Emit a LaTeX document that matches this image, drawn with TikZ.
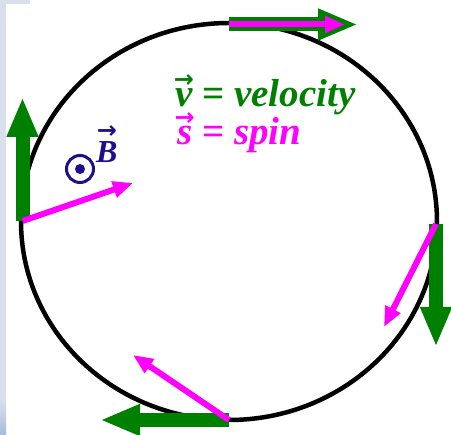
\documentclass[tikz,border=0pt]{standalone}
\usepackage{fontspec}
\setmainfont{Liberation Serif}
\newfontfamily\arrowfont{DejaVu Sans}
\usetikzlibrary{arrows.meta}
\definecolor{velgreen}{HTML}{008000}
\definecolor{spinpink}{HTML}{FF00FF}
\definecolor{fieldblue}{HTML}{1E0E8C}
\definecolor{stripblue}{HTML}{D9DFEC}
\definecolor{stripdark}{HTML}{A8BBDA}
\tikzset{
  % The circular orbit
  orbit/.style={draw=black, line width=4.5pt},
  % Velocity vectors: thick green arrows
  velarrow/.style={draw=velgreen, line width=14pt,
    -{Triangle[length=40pt, width=29pt]}},
  % Spin vectors: thinner magenta arrows
  spinarrow/.style={draw=spinpink, line width=6pt,
    -{Triangle[length=20pt, width=16pt]}},
  % Legend texts
  legend/.style={font=\fontsize{39}{44}\selectfont\bfseries\itshape,
    inner sep=0pt, anchor=base west},
}
% letter with an arrow above it
\newcommand{\vecsym}[2]{\ooalign{#2\cr\hidewidth
  \raisebox{#1}{\arrowfont\fontsize{24}{24}\selectfont\bfseries\upshape\char"2192}%
  \hidewidth\cr}}

\begin{document}
\begin{tikzpicture}[x=1pt, y=-1pt]
  \useasboundingbox (0,0) rectangle (451,435);
  \fill[stripblue] (0,0) rectangle (6,400);
  \shade[top color=stripblue, bottom color=stripdark] (0,400) rectangle (6,435);
  \fill[stripblue] (6,0) rectangle (30,4);

  % orbit
  \draw[orbit] (229,221.5) ellipse [x radius=208, y radius=198.5];

  % points on the orbit
  \coordinate (top) at (229,24.5);
  \coordinate (left) at (22.5,221);
  \coordinate (right) at (436,224);
  \coordinate (bottom) at (229,420);

  % velocity tips
  \coordinate (vtop) at (358,24.5);
  \coordinate (vleft) at (22.5,97);
  \coordinate (vright) at (436,347);
  \coordinate (vbottom) at (100,420);

  % spin tips
  \coordinate (stop) at (345,24.5);
  \coordinate (sleft) at (133,183);
  \coordinate (sright) at (384,327);
  \coordinate (sbottom) at (133,355);

  \foreach \p in {top,left,right,bottom}
    \draw[velarrow] (\p) -- (v\p);
  \foreach \p in {top,left,right,bottom}
    \draw[spinarrow] (\p) -- (s\p);

  % legend
  \node[legend, text=velgreen] (vlabel) at (175,107)
    {\vecsym{19pt}{v} {\upshape=} velocity};
  \node[legend, text=spinpink] (slabel) at (177,145)
    {\vecsym{19pt}{s} {\upshape=} spin};

  % magnetic field out of the page
  \node[draw=fieldblue, line width=3pt, circle, minimum size=27pt,
        inner sep=0pt] (bcircle) at (80,169) {};
  \fill[fieldblue] (bcircle.center) circle [radius=5];
  \node[legend, text=fieldblue, font=\fontsize{32}{36}\selectfont\bfseries\itshape]
    (blabel) at (96,163) {\vecsym{24pt}{B}};
\end{tikzpicture}
\end{document}
